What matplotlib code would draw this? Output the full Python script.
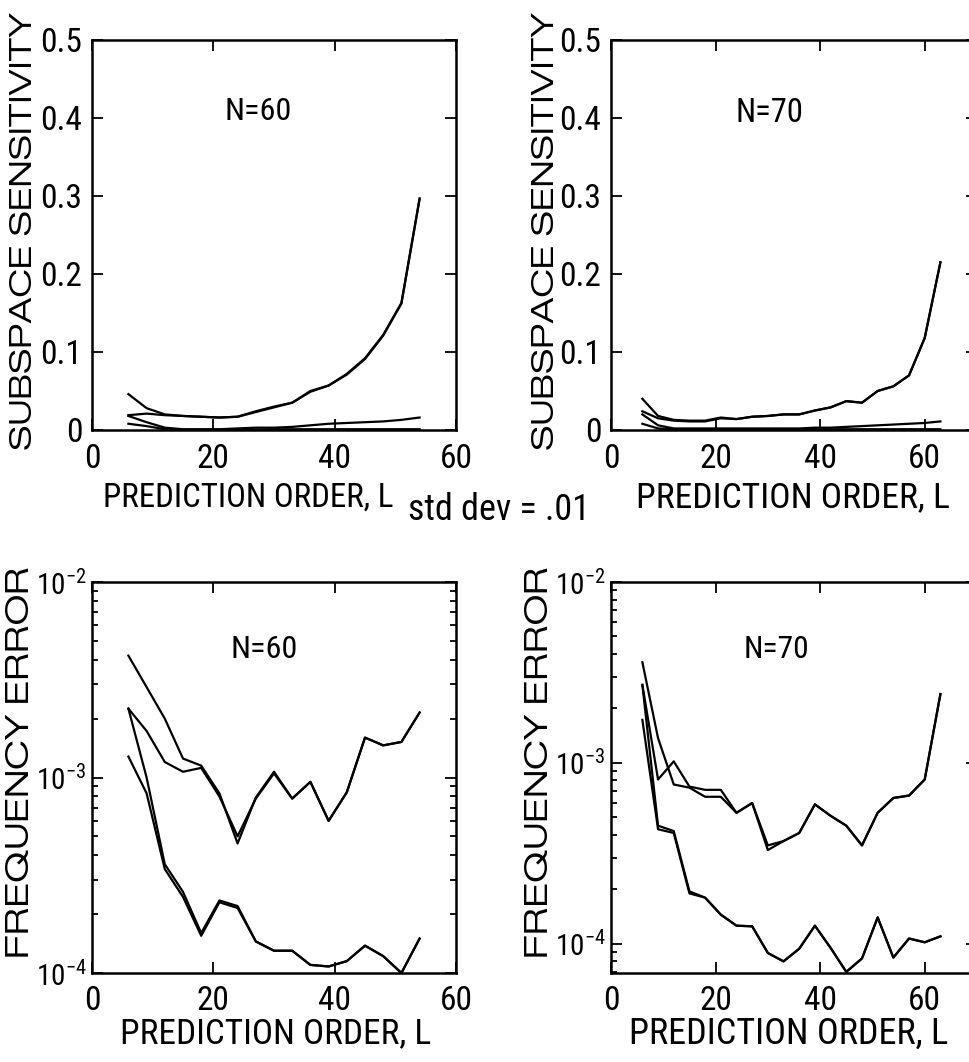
import matplotlib
matplotlib.use("Agg")
import matplotlib.pyplot as plt
from matplotlib import font_manager

# narrow sans for ticks and x labels; the scan squeezed the page sideways,
# so the rotated y labels look wide and short -> an expanded face for those
names = {f.name for f in font_manager.fontManager.ttflist}
narrow = next(n for n in ['Liberation Sans Narrow', 'Arial Narrow', 'Nimbus Sans Narrow',
                          'Roboto Condensed', 'Archivo Narrow', 'Pragati Narrow',
                          'PT Sans Narrow', 'Liberation Sans'] if n in names)
wide = next(n for n in ['Zalando Sans Expanded', 'Zalando Sans SemiExpanded',
                        'Liberation Sans'] if n in names)
plt.rcParams['font.family'] = [narrow, 'DejaVu Sans']
plt.rcParams['mathtext.fontset'] = 'custom'
plt.rcParams['mathtext.rm'] = narrow
plt.rcParams['mathtext.it'] = narrow

# prediction orders
order60 = [6, 9, 12, 15, 18, 21, 24, 27, 30, 33, 36, 39, 42, 45, 48, 51, 54]
order70 = [6, 9, 12, 15, 18, 21, 24, 27, 30, 33, 36, 39, 42, 45, 48, 51, 54, 57, 60, 63]

# subspace sensitivity, N=60
sens60_a = [0.046, 0.028, 0.020, 0.018, 0.017, 0.016, 0.017, 0.024, 0.030, 0.035, 0.050, 0.057, 0.072, 0.092, 0.122, 0.163, 0.297]
sens60_b = [0.019, 0.021, 0.019, 0.018, 0.017, 0.016, 0.017, 0.023, 0.029, 0.035, 0.049, 0.057, 0.071, 0.091, 0.121, 0.162, 0.296]
sens60_c = [0.018, 0.010, 0.003, 0.001, 0.001, 0.001, 0.002, 0.003, 0.003, 0.004, 0.006, 0.008, 0.009, 0.010, 0.011, 0.013, 0.016]
sens60_d = [0.008, 0.005, 0.001, 0.0005, 0.0005, 0.0005, 0.0005, 0.0005, 0.001, 0.001, 0.001, 0.001, 0.001, 0.001, 0.001, 0.001, 0.001]

# subspace sensitivity, N=70
sens70_a = [0.040, 0.018, 0.013, 0.012, 0.012, 0.016, 0.014, 0.017, 0.018, 0.020, 0.020, 0.025, 0.029, 0.037, 0.035, 0.050, 0.056, 0.070, 0.118, 0.215]
sens70_b = [0.024, 0.015, 0.012, 0.011, 0.011, 0.015, 0.014, 0.017, 0.018, 0.020, 0.020, 0.025, 0.029, 0.037, 0.035, 0.050, 0.056, 0.070, 0.118, 0.215]
sens70_c = [0.020, 0.006, 0.002, 0.002, 0.002, 0.002, 0.002, 0.002, 0.002, 0.002, 0.002, 0.003, 0.003, 0.004, 0.005, 0.006, 0.007, 0.008, 0.009, 0.011]
sens70_d = [0.008, 0.002, 0.001, 0.001, 0.001, 0.001, 0.001, 0.001, 0.001, 0.001, 0.001, 0.001, 0.001, 0.001, 0.001, 0.001, 0.001, 0.001, 0.001, 0.001]

# frequency error, N=60
ferr60_a = [4.2e-3, 2.9e-3, 2.0e-3, 1.25e-3, 1.15e-3, 8.3e-4, 4.6e-4, 7.9e-4, 1.07e-3, 7.8e-4, 9.5e-4, 6.0e-4, 8.4e-4, 1.6e-3, 1.46e-3, 1.52e-3, 2.15e-3]
ferr60_b = [2.25e-3, 1.73e-3, 1.2e-3, 1.07e-3, 1.12e-3, 8.0e-4, 5.0e-4, 7.8e-4, 1.05e-3, 7.8e-4, 9.5e-4, 6.0e-4, 8.4e-4, 1.6e-3, 1.46e-3, 1.52e-3, 2.15e-3]
ferr60_c = [1.28e-3, 8.3e-4, 3.4e-4, 2.45e-4, 1.55e-4, 2.3e-4, 2.15e-4, 1.45e-4, 1.3e-4, 1.3e-4, 1.1e-4, 1.08e-4, 1.15e-4, 1.38e-4, 1.22e-4, 1.0e-4, 1.5e-4]
ferr60_d = [2.25e-3, 1.0e-3, 3.6e-4, 2.6e-4, 1.6e-4, 2.35e-4, 2.2e-4, 1.45e-4, 1.3e-4, 1.3e-4, 1.1e-4, 1.08e-4, 1.15e-4, 1.38e-4, 1.22e-4, 1.0e-4, 1.5e-4]

# frequency error, N=70
ferr70_a = [3.6e-3, 1.37e-3, 7.6e-4, 7.3e-4, 6.5e-4, 6.5e-4, 5.3e-4, 6.0e-4, 3.5e-4, 3.7e-4, 4.1e-4, 5.9e-4, 5.1e-4, 4.5e-4, 3.5e-4, 5.3e-4, 6.4e-4, 6.6e-4, 8.1e-4, 2.4e-3]
ferr70_b = [2.7e-3, 8.1e-4, 1.02e-3, 7.4e-4, 7.1e-4, 7.1e-4, 5.3e-4, 6.0e-4, 3.3e-4, 3.7e-4, 4.1e-4, 5.9e-4, 5.1e-4, 4.5e-4, 3.5e-4, 5.3e-4, 6.4e-4, 6.6e-4, 8.1e-4, 2.4e-3]
ferr70_c = [1.73e-3, 4.3e-4, 4.1e-4, 1.9e-4, 1.8e-4, 1.45e-4, 1.26e-4, 1.25e-4, 8.9e-5, 8.0e-5, 9.4e-5, 1.26e-4, 9.5e-5, 7.0e-5, 8.3e-5, 1.4e-4, 8.4e-5, 1.07e-4, 1.02e-4, 1.1e-4]
ferr70_d = [2.7e-3, 4.5e-4, 4.2e-4, 1.95e-4, 1.8e-4, 1.45e-4, 1.26e-4, 1.25e-4, 8.9e-5, 8.0e-5, 9.4e-5, 1.26e-4, 9.5e-5, 7.0e-5, 8.3e-5, 1.4e-4, 8.4e-5, 1.07e-4, 1.02e-4, 1.1e-4]

xticks = [0, 20, 40, 60]
sens_ticks = [0, 0.1, 0.2, 0.3, 0.4, 0.5]
sens_labels = ['0', '0.1', '0.2', '0.3', '0.4', '0.5']
err_ticks = [1e-4, 1e-3, 1e-2]
err_labels = ['$10^{-4}$', '$10^{-3}$', '$10^{-2}$']

FS = 24
W, H = 969, 1062
fig = plt.figure(figsize=(W / 100, H / 100), dpi=100)
renderer = fig.canvas.get_renderer()


def box(x0, x1, y0, y1):
    # pixel box -> figure fraction
    return [x0 / W, 1 - y1 / H, (x1 - x0) / W, (y1 - y0) / H]


def label(x, y, s, span, rot=0, family=None):
    # text centred on pixel (x, y), scaled so its long side is `span` px
    t = fig.text(x / W, 1 - y / H, s, fontsize=FS, rotation=rot,
                 ha='center', va='center', family=family)
    bb = t.get_window_extent(renderer)
    t.set_fontsize(FS * span / (bb.height if rot else bb.width))
    return t


def style(ax):
    for s in ax.spines.values():
        s.set_linewidth(1.8)
    ax.tick_params(which='both', direction='in', top=True, right=True,
                   labelsize=FS, width=1.3)
    ax.tick_params(axis='x', pad=9)
    ax.tick_params(axis='y', pad=7)
    ax.tick_params(which='major', length=8)
    ax.tick_params(which='minor', length=4)


ax1 = fig.add_axes(box(92, 456, 40, 430))
ax2 = fig.add_axes(box(611, 977, 40, 430))
ax3 = fig.add_axes(box(92, 456, 582, 973))
ax4 = fig.add_axes(box(611, 977, 582, 973))

for ax, xs, ys, xmax in [(ax1, order60, [sens60_a, sens60_b, sens60_c, sens60_d], 60),
                         (ax2, order70, [sens70_a, sens70_b, sens70_c, sens70_d], 70)]:
    for y in ys:
        ax.plot(xs, y, color='black', lw=1.6)
    ax.set_xlim(0, xmax)
    ax.set_ylim(0, 0.5)
    ax.set_xticks(xticks)
    ax.set_yticks(sens_ticks)
    ax.set_yticklabels(sens_labels)
    style(ax)

for ax, xs, ys, xmax, lo in [(ax3, order60, [ferr60_a, ferr60_b, ferr60_c, ferr60_d], 60, 1e-4),
                             (ax4, order70, [ferr70_a, ferr70_b, ferr70_c, ferr70_d], 70, 6.9e-5)]:
    for y in ys:
        ax.plot(xs, y, color='black', lw=1.6)
    ax.set_yscale('log')
    ax.set_xlim(0, xmax)
    ax.set_ylim(lo, 1e-2)
    ax.set_xticks(xticks)
    ax.set_yticks(err_ticks)
    ax.set_yticklabels(err_labels)
    style(ax)
    ax.tick_params(axis='y', labelsize=21, pad=4)

# axis titles, placed by hand like the scanned figure
label(248, 498, 'PREDICTION ORDER, L', 292)
label(793, 498, 'PREDICTION ORDER, L', 313)
label(276, 1034, 'PREDICTION ORDER, L', 312)
label(789, 1034, 'PREDICTION ORDER, L', 320)
label(499, 510, 'std dev = .01', 182)

label(24, 231, 'SUBSPACE SENSITIVITY', 438, rot=90, family=wide)
label(546, 231, 'SUBSPACE SENSITIVITY', 438, rot=90, family=wide)
label(21, 762, 'FREQUENCY ERROR', 392, rot=90, family=wide)
label(539, 762, 'FREQUENCY ERROR', 392, rot=90, family=wide)

label(258, 112, 'N=60', 67)
label(769, 113, 'N=70', 68)
label(264, 650, 'N=60', 67)
label(776, 650, 'N=70', 66)

fig.savefig('out.png', dpi=100)
